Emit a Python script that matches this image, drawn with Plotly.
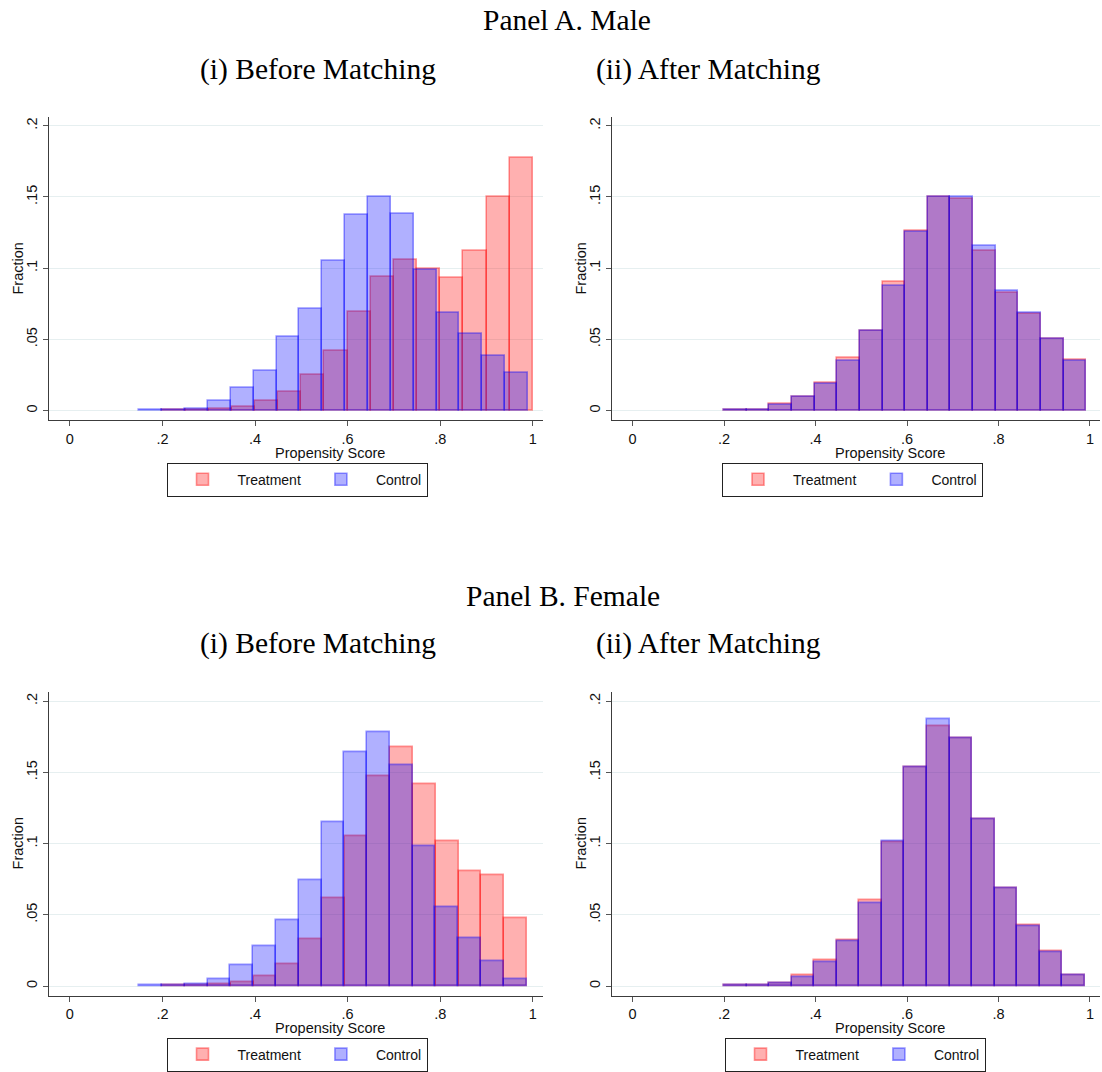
import plotly.graph_objects as go

# ---------------- data ----------------
# Panel A (Male), before matching
a_before_treat_start, a_before_treat_width = 0.20, 0.0500
a_before_treat = [0.0005, 0.0007, 0.0014, 0.0030, 0.0068, 0.0136, 0.0255, 0.0420,
                  0.0697, 0.0943, 0.1062, 0.0999, 0.0931, 0.1120, 0.1500, 0.1775]
a_before_ctrl_start, a_before_ctrl_width = 0.15, 0.0494
a_before_ctrl = [0.0003, 0.0005, 0.0016, 0.0070, 0.0160, 0.0280, 0.0520, 0.0716, 0.1055,
                 0.1373, 0.1500, 0.1382, 0.0990, 0.0690, 0.0543, 0.0386, 0.0264]

# Panel A (Male), after matching
a_after_start, a_after_width = 0.20, 0.0495
a_after_treat = [0.0003, 0.0005, 0.0050, 0.0098, 0.0197, 0.0370, 0.0562, 0.0903,
                 0.1263, 0.1502, 0.1490, 0.1123, 0.0830, 0.0678, 0.0508, 0.0358]
a_after_ctrl = [0.0003, 0.0005, 0.0042, 0.0098, 0.0190, 0.0349, 0.0562, 0.0877,
                0.1256, 0.1502, 0.1504, 0.1156, 0.0845, 0.0690, 0.0508, 0.0353]

# Panel B (Female), before matching
b_before_treat_start, b_before_treat_width = 0.20, 0.0492
b_before_treat = [0.0003, 0.0005, 0.0010, 0.0030, 0.0070, 0.0155, 0.0327, 0.0620,
                  0.1053, 0.1476, 0.1680, 0.1420, 0.1018, 0.0807, 0.0779, 0.0477]
b_before_ctrl_start, b_before_ctrl_width = 0.15, 0.0492
b_before_ctrl = [0.0003, 0.0005, 0.0012, 0.0045, 0.0147, 0.0280, 0.0463, 0.0744, 0.1153,
                 0.1640, 0.1780, 0.1550, 0.0982, 0.0552, 0.0339, 0.0175, 0.0051]

# Panel B (Female), after matching
b_after_start, b_after_width = 0.20, 0.0493
b_after_treat = [0.0003, 0.0007, 0.0020, 0.0075, 0.0180, 0.0320, 0.0603, 0.1013,
                 0.1540, 0.1825, 0.1740, 0.1170, 0.0688, 0.0428, 0.0246, 0.0077]
b_after_ctrl = [0.0003, 0.0007, 0.0020, 0.0065, 0.0168, 0.0316, 0.0585, 0.1018,
                0.1540, 0.1871, 0.1740, 0.1174, 0.0688, 0.0421, 0.0241, 0.0073]

x_tickvals = [0, 0.2, 0.4, 0.6, 0.8, 1.0]
x_ticktext = ["0", ".2", ".4", ".6", ".8", "1"]
y_tickvals = [0, 0.05, 0.10, 0.15, 0.20]
y_ticktext = ["0", ".05", ".1", ".15", ".2"]

panel_titles = ["Panel A. Male", "Panel B. Female"]
sub_titles = ["(i) Before Matching", "(ii) After Matching"]
series_names = ["Treatment", "Control"]
x_title = "Propensity Score"
y_title = "Fraction"

# ---------------- styling ----------------
W, H = 1102, 1072
TREAT_FILL = "rgba(255,0,0,0.31)"
TREAT_LINE = "rgba(255,0,0,0.40)"
CTRL_FILL = "rgba(0,0,255,0.31)"
CTRL_LINE = "rgba(0,0,255,0.40)"
SERIF = "Liberation Serif"
SANS = "Liberation Sans"

def centers(start, width, n):
    return [start + width * (i + 0.5) for i in range(n)]

def px_x(p):
    return p / W

def px_y(p):
    return 1 - p / H

# domains (pixel based)
x_dom_left = [px_x(49), px_x(543)]
x_dom_right = [px_x(612), px_x(1100)]
y_dom_top = [px_y(421), px_y(117)]
y_dom_bot = [px_y(997.5), px_y(693.5)]

fig = go.Figure()

panels = [
    ("x", "y", "legend", (a_before_treat_start, a_before_treat_width, a_before_treat),
     (a_before_ctrl_start, a_before_ctrl_width, a_before_ctrl)),
    ("x2", "y2", "legend2", (a_after_start, a_after_width, a_after_treat),
     (a_after_start, a_after_width, a_after_ctrl)),
    ("x3", "y3", "legend3", (b_before_treat_start, b_before_treat_width, b_before_treat),
     (b_before_ctrl_start, b_before_ctrl_width, b_before_ctrl)),
    ("x4", "y4", "legend4", (b_after_start, b_after_width, b_after_treat),
     (b_after_start, b_after_width, b_after_ctrl)),
]

for xa, ya, lg, tr, ct in panels:
    for (start, width, vals), name, fill, line in [(tr, series_names[0], TREAT_FILL, TREAT_LINE),
                                                    (ct, series_names[1], CTRL_FILL, CTRL_LINE)]:
        fig.add_trace(go.Bar(
            x=centers(start, width, len(vals)), y=vals, width=width,
            name=name, xaxis=xa, yaxis=ya, legend=lg,
            marker=dict(color=fill, line=dict(color=line, width=1.6)),
            hoverinfo="x+y",
        ))

axis_common_x = dict(range=[-0.045, 1.022], tickvals=x_tickvals, ticktext=x_ticktext,
                     showgrid=False, zeroline=False, showline=True, linecolor="#3c3c3c",
                     linewidth=1.2, ticks="outside", ticklen=5, tickcolor="#555555",
                     tickfont=dict(family=SANS, size=14.5, color="#111111"))
axis_common_y = dict(range=[-0.0067, 0.2063], tickvals=y_tickvals, ticktext=y_ticktext,
                     showgrid=True, gridcolor="#E6EFF0", gridwidth=1.3, zeroline=False,
                     showline=True, linecolor="#3c3c3c", linewidth=1.2, ticks="outside",
                     ticklen=5, tickcolor="#555555", tickangle=-90,
                     tickfont=dict(family=SANS, size=14.5, color="#111111"))

layout_axes = {}
doms = [(x_dom_left, y_dom_top), (x_dom_right, y_dom_top),
        (x_dom_left, y_dom_bot), (x_dom_right, y_dom_bot)]
for i, (xd, yd) in enumerate(doms, start=1):
    sx = "" if i == 1 else str(i)
    layout_axes["xaxis" + sx] = dict(axis_common_x, domain=xd, anchor="y" + sx)
    layout_axes["yaxis" + sx] = dict(axis_common_y, domain=yd, anchor="x" + sx)

fig.update_layout(**layout_axes)

# legends
legend_style = dict(orientation="h", xanchor="center", yanchor="middle",
                    bordercolor="#222222", borderwidth=1, bgcolor="white",
                    font=dict(family=SANS, size=14, color="#111111"),
                    itemwidth=60, traceorder="normal")
fig.update_layout(
    legend=dict(legend_style, x=px_x(297), y=px_y(480.5)),
    legend2=dict(legend_style, x=px_x(852.5), y=px_y(480.5)),
    legend3=dict(legend_style, x=px_x(297), y=px_y(1056.5)),
    legend4=dict(legend_style, x=px_x(855), y=px_y(1056.5)),
)

annotations = []
title_font = dict(family=SERIF, size=29.5, color="black")
for ptitle, y_title_px, y_sub_px, xc in [(panel_titles[0], 20, 70, 567),
                                         (panel_titles[1], 597, 645, 562.5)]:
    annotations.append(dict(text=ptitle, x=px_x(xc), y=px_y(y_title_px), xref="paper",
                            yref="paper", showarrow=False, font=title_font,
                            xanchor="center", yanchor="middle"))
    annotations.append(dict(text=sub_titles[0], x=px_x(318), y=px_y(y_sub_px), xref="paper",
                            yref="paper", showarrow=False, font=title_font,
                            xanchor="center", yanchor="middle"))
    annotations.append(dict(text=sub_titles[1], x=px_x(708.5), y=px_y(y_sub_px), xref="paper",
                            yref="paper", showarrow=False, font=title_font,
                            xanchor="center", yanchor="middle"))

label_font = dict(family=SANS, size=14.5, color="#111111")
for i, (yxt, yyt) in enumerate([(454, 269), (454, 269), (1030, 845), (1030, 845)], start=1):
    sx = "" if i == 1 else str(i)
    annotations.append(dict(text=x_title, x=0.563, xref="x" + sx, y=px_y(yxt), yref="paper",
                            showarrow=False, font=label_font, xanchor="center", yanchor="middle"))
    xpx = 18 if i in (1, 3) else 581
    annotations.append(dict(text=y_title, x=px_x(xpx), xref="paper", y=px_y(yyt), yref="paper",
                            showarrow=False, font=label_font, textangle=-90,
                            xanchor="center", yanchor="middle"))

fig.update_layout(
    annotations=annotations,
    barmode="overlay",
    width=W, height=H,
    margin=dict(l=0, r=0, t=0, b=0),
    paper_bgcolor="white", plot_bgcolor="white",
    font=dict(family=SANS),
    bargap=0,
)

fig.write_html("out.html", config={"displayModeBar": False},
               post_script="document.body.style.margin='0px';document.body.style.overflow='hidden';")
